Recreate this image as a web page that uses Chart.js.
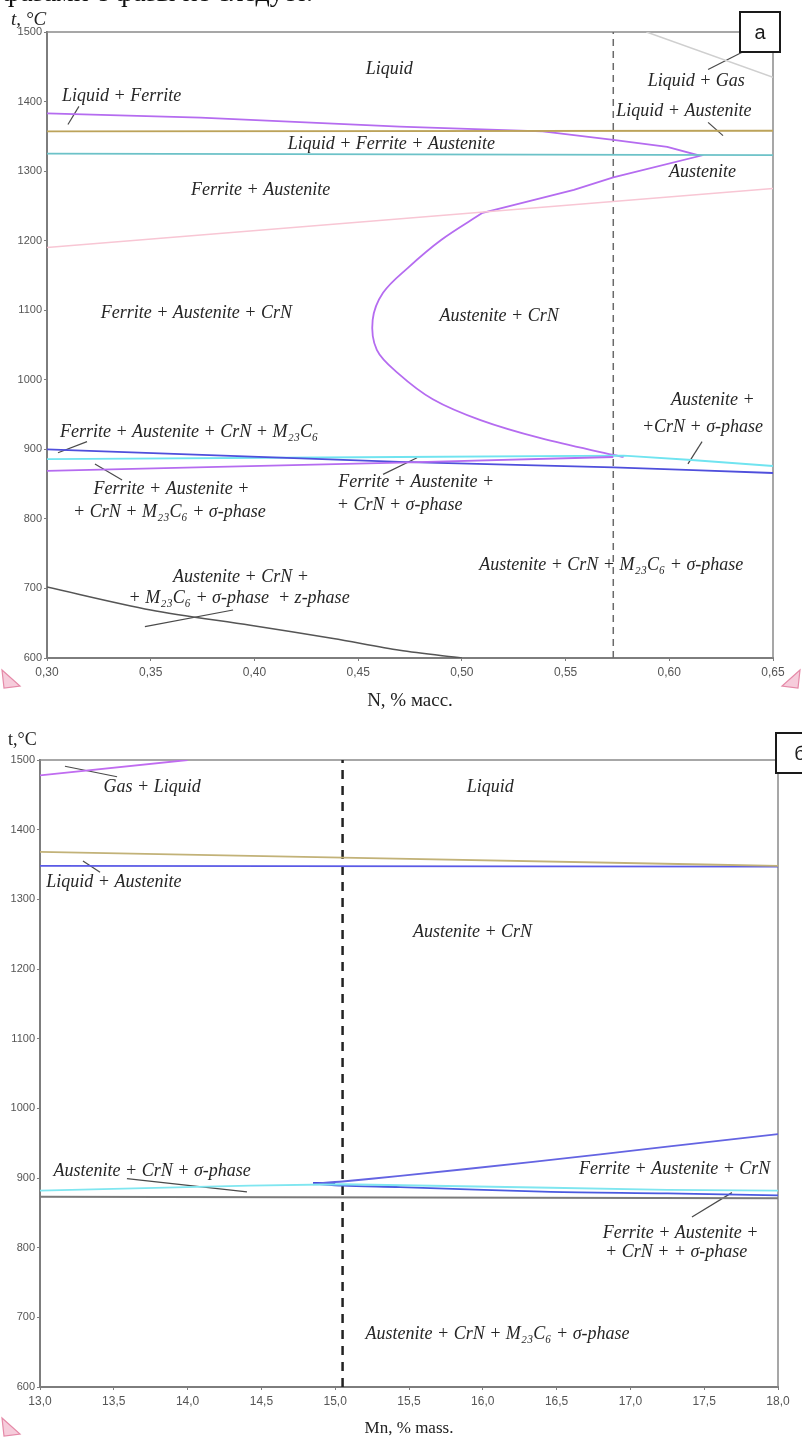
<!DOCTYPE html>
<html>
<head>
<meta charset="utf-8">
<script src="https://cdn.jsdelivr.net/npm/chart.js@4.4.1/dist/chart.umd.min.js"></script>
<style>
  body { margin: 0; background: #fff; width: 802px; height: 1443px; overflow: hidden; position: relative; }
  .wrap { position: absolute; left: 0; }
</style>
</head>
<body>
<div class="wrap" style="top:0"><canvas id="chartA" width="802" height="720"></canvas></div>
<div class="wrap" style="top:720px"><canvas id="chartB" width="802" height="723"></canvas></div>
<script>
// ---- chart a: t vs N, % mass ----
const nTicks = [0.30, 0.35, 0.40, 0.45, 0.50, 0.55, 0.60, 0.65];
const tTicks = [600, 700, 800, 900, 1000, 1100, 1200, 1300, 1400, 1500];
const nSection = 0.573;

const nLiquidus = [[0.30, 1383], [0.374, 1377], [0.470, 1364], [0.539, 1357], [0.573, 1345], [0.599, 1335], [0.615, 1322],
                   [0.573, 1291], [0.554, 1273], [0.510, 1240]];
const nCrNSolvus = [[0.510, 1240], [0.490, 1201], [0.474, 1161], [0.462, 1125], [0.457, 1086], [0.459, 1043],
                    [0.469, 1010], [0.486, 972], [0.509, 942], [0.538, 916], [0.573, 892], [0.578, 889]];
const nSigmaLow = [[0.30, 869], [0.470, 881], [0.573, 889]];
const nM23C6 = [[0.30, 900], [0.470, 882], [0.573, 874], [0.65, 866]];
const nSigma = [[0.30, 886], [0.470, 889], [0.578, 891], [0.609, 885], [0.65, 876]];
const nZphase = [[0.30, 702], [0.350, 669], [0.398, 647], [0.438, 628], [0.470, 611], [0.500, 600]];
const nOlive = [[0.30, 1357], [0.65, 1358]];
const nTeal = [[0.30, 1325], [0.65, 1323]];
const nPink = [[0.30, 1190], [0.65, 1275]];
const nGas = [[0.589, 1500], [0.65, 1435]];

const nLeaders = [
  [[0.3154, 1393], [0.3101, 1367]],
  [[0.6187, 1446], [0.6351, 1471]],
  [[0.6187, 1370], [0.6259, 1351]],
  [[0.3193, 911], [0.3053, 895]],
  [[0.3231, 879], [0.3362, 856]],
  [[0.4620, 864], [0.4784, 888]],
  [[0.6158, 911], [0.6090, 879]],
  [[0.3472, 645], [0.3897, 669]]
];

const nLabels = [
  ['Liquid', 0.465, 1446],
  ['Liquid + Ferrite', 0.336, 1407],
  ['Liquid + Gas', 0.613, 1429],
  ['Liquid + Austenite', 0.607, 1386],
  ['Liquid + Ferrite + Austenite', 0.466, 1338],
  ['Austenite', 0.616, 1298],
  ['Ferrite + Austenite', 0.403, 1272],
  ['Ferrite + Austenite + CrN', 0.372, 1096],
  ['Austenite + CrN', 0.518, 1091],
  ['Austenite +', 0.621, 971],
  ['+CrN + σ-phase', 0.616, 932],
  ['Ferrite + Austenite + CrN + M₂₃C₆', 0.3685, 925],
  ['Ferrite + Austenite +', 0.360, 842],
  ['+ CrN + M₂₃C₆ + σ-phase', 0.359, 810],
  ['Ferrite + Austenite +', 0.478, 853],
  ['+ CrN + σ-phase', 0.470, 820],
  ['Austenite + CrN + M₂₃C₆ + σ-phase', 0.572, 734],
  ['Austenite + CrN +', 0.3935, 716],
  ['+ M₂₃C₆ + σ-phase  + z-phase', 0.3926, 686]
];

// ---- chart б: t vs Mn, % mass ----
const mnTicks = [13.0, 13.5, 14.0, 14.5, 15.0, 15.5, 16.0, 16.5, 17.0, 17.5, 18.0];
const mnSection = 15.05;

const mGas = [[13.0, 1478], [14.0, 1500]];
const mOlive = [[13.0, 1368], [15.05, 1360], [17.5, 1350], [18.0, 1348]];
const mLiquidus = [[13.0, 1348], [18.0, 1347]];
const mBlack = [[13.0, 873], [18.0, 871]];
const mSigma = [[13.0, 882], [14.42, 889], [15.05, 891], [16.46, 886], [17.25, 883], [18.0, 882]];
const mFerriteUp = [[14.85, 892], [15.05, 895], [15.44, 903], [16.34, 923], [17.25, 945], [18.0, 963]];
const mFerriteLow = [[14.85, 892], [15.05, 889], [15.44, 887], [16.46, 880], [17.25, 878], [18.0, 875]];
const mWedge = [[14.85, 892], [15.0, 892]];

const mLeaders = [
  [[13.169, 1491], [13.522, 1476]],
  [[13.291, 1355], [13.407, 1339]],
  [[13.589, 899], [14.402, 880]],
  [[17.417, 844], [17.688, 879]]
];

const mLabels = [
  ['Gas + Liquid', 13.76, 1461],
  ['Liquid', 16.05, 1461],
  ['Liquid + Austenite', 13.50, 1325],
  ['Austenite + CrN', 15.93, 1253],
  ['Austenite + CrN + σ-phase', 13.76, 909],
  ['Ferrite + Austenite + CrN', 17.30, 912],
  ['Ferrite + Austenite +', 17.34, 821],
  ['+ CrN + + σ-phase', 17.31, 793],
  ['Austenite + CrN + M₂₃C₆ + σ-phase', 16.10, 675]
];

Chart.defaults.font.family = '"Liberation Sans", Arial, sans-serif';

function line(pts, color, width, extra) {
  return Object.assign({
    data: pts.map(p => ({ x: p[0], y: p[1] })),
    borderColor: color, borderWidth: width, showLine: true,
    pointRadius: 0, fill: false, tension: 0
  }, extra || {});
}

function pinkMark(ctx, x, y, flip) {
  // small pink arrow-head fragments at the page margins
  ctx.save();
  ctx.strokeStyle = '#e58aa8';
  ctx.fillStyle = 'rgba(240,170,195,0.6)';
  ctx.lineWidth = 1.2;
  const s = flip ? -1 : 1;
  ctx.beginPath();
  ctx.moveTo(x, y);
  ctx.lineTo(x + s * 18, y + 16);
  ctx.lineTo(x + s * 2, y + 18);
  ctx.closePath();
  ctx.fill();
  ctx.stroke();
  ctx.restore();
}

const phasePlugin = {
  id: 'phase',
  beforeDatasetsDraw(chart, args, o) {
    const { ctx, chartArea: a } = chart;
    ctx.save();
    ctx.strokeStyle = '#8a8a8a';
    ctx.lineWidth = 1.5;
    ctx.beginPath();
    ctx.moveTo(a.left, a.top);
    ctx.lineTo(a.right, a.top);
    ctx.lineTo(a.right, a.bottom);
    ctx.stroke();
    ctx.restore();
  },
  afterDraw(chart, args, o) {
    const { ctx } = chart;
    const xs = chart.scales.x, ys = chart.scales.y;
    ctx.save();
    ctx.fillStyle = '#262626';
    ctx.font = 'italic 18px "Liberation Serif", "DejaVu Serif", serif';
    ctx.textAlign = 'center';
    ctx.textBaseline = 'middle';
    (o.labels || []).forEach(l => {
      ctx.fillText(l[0], xs.getPixelForValue(l[1]), ys.getPixelForValue(l[2]));
    });
    (o.texts || []).forEach(t => {
      ctx.font = t.font;
      ctx.fillStyle = t.color || '#222';
      ctx.textAlign = t.align || 'left';
      ctx.textBaseline = t.baseline || 'middle';
      ctx.fillText(t.text, t.x, t.y);
    });
    (o.marks || []).forEach(m => pinkMark(ctx, m[0], m[1], m[2]));
    if (o.box) {
      const b = o.box;
      ctx.fillStyle = '#fff';
      ctx.fillRect(b.x, b.y, b.w, b.h);
      ctx.strokeStyle = '#1a1a1a';
      ctx.lineWidth = 2;
      ctx.strokeRect(b.x, b.y, b.w, b.h);
      ctx.fillStyle = '#1a1a1a';
      ctx.font = '20px "Liberation Sans", Arial, sans-serif';
      ctx.textAlign = 'center';
      ctx.textBaseline = 'middle';
      ctx.fillText(b.text, b.tx, b.y + b.h / 2 + 1);
    }
    ctx.restore();
  }
};

function makeChart(id, cfg) {
  return new Chart(document.getElementById(id), {
    type: 'scatter',
    data: { datasets: cfg.datasets },
    options: {
      responsive: false,
      animation: false,
      devicePixelRatio: 1,
      events: [],
      layout: { padding: cfg.padding },
      plugins: {
        legend: { display: false },
        tooltip: { enabled: false },
        phase: { labels: cfg.labels, texts: cfg.texts, box: cfg.box, marks: cfg.marks }
      },
      scales: {
        x: {
          type: 'linear', min: cfg.xMin, max: cfg.xMax,
          afterBuildTicks: s => { s.ticks = cfg.xTicks.map(v => ({ value: v })); },
          afterFit: s => { s.height = cfg.xHeight; },
          border: { color: '#7d7d7d', width: 2 },
          grid: { display: true, drawOnChartArea: false, drawTicks: true, tickLength: 3, color: '#7d7d7d' },
          ticks: {
            color: '#555', font: { size: cfg.xTickSize }, padding: 4, maxRotation: 0, autoSkip: false,
            callback: v => v.toFixed(cfg.xDigits).replace('.', ',')
          },
          title: {
            display: true, text: cfg.xTitle, color: '#222',
            font: { family: '"Liberation Serif", serif', size: cfg.xTitleSize },
            padding: { top: 0, bottom: cfg.xTitlePad }
          }
        },
        y: {
          type: 'linear', min: 600, max: 1500,
          afterBuildTicks: s => { s.ticks = tTicks.map(v => ({ value: v })); },
          afterFit: s => { s.width = cfg.yWidth; },
          border: { color: '#7d7d7d', width: 2 },
          grid: { display: true, drawOnChartArea: false, drawTicks: true, tickLength: 3, color: '#7d7d7d' },
          ticks: { color: '#555', font: { size: cfg.yTickSize }, padding: 2, autoSkip: false, callback: v => String(v) }
        }
      }
    },
    plugins: [phasePlugin]
  });
}

const leader = (pts) => line(pts, '#4a4a4a', 1.2);

makeChart('chartA', {
  xMin: 0.30, xMax: 0.65, xTicks: nTicks, xDigits: 2,
  xTitle: 'N, % масс.', xTitleSize: 19, xTitlePad: 8, xHeight: 62, xTickSize: 12,
  yWidth: 47, yTickSize: 11,
  padding: { left: 0, right: 29, top: 32, bottom: 0 },
  labels: nLabels,
  texts: [
    { text: 'фазами с фазы не следует.', x: 2, y: 1, font: '28px "Liberation Serif", serif', color: '#111', baseline: 'alphabetic' },
    { text: 't, °C', x: 11, y: 20, font: 'italic 19px "Liberation Serif", serif', color: '#222' }
  ],
  marks: [[2, 670, false], [800, 670, true]],
  box: { x: 740, y: 12, w: 40, h: 40, text: 'a', tx: 760 },
  datasets: [
    line(nPink, '#f8c6d4', 1.5),
    line(nGas, '#cfcfcf', 1.5),
    line(nOlive, '#bca35a', 1.8),
    line(nTeal, '#6cc2c8', 1.8),
    line(nZphase, '#555555', 1.5, { tension: 0.3 }),
    line(nSigmaLow, '#b56cf0', 1.8),
    line(nM23C6, '#4f4fdc', 1.8, { tension: 0.2 }),
    line(nSigma, '#70e4f0', 1.8),
    line(nLiquidus, '#b56cf0', 1.8),
    line(nCrNSolvus, '#b56cf0', 1.8, { tension: 0.35 }),
    line([[nSection, 600], [nSection, 1500]], '#6a6a6a', 1.5, { borderDash: [7, 5] }),
    ...nLeaders.map(leader)
  ]
});

makeChart('chartB', {
  xMin: 13, xMax: 18, xTicks: mnTicks, xDigits: 1,
  xTitle: 'Mn, % mass.', xTitleSize: 17, xTitlePad: 4, xHeight: 56, xTickSize: 12,
  yWidth: 40, yTickSize: 11,
  padding: { left: 0, right: 24, top: 40, bottom: 0 },
  labels: mLabels,
  texts: [
    { text: 't,°C', x: 8, y: 20, font: '18px "Liberation Serif", serif', color: '#222' }
  ],
  marks: [[2, 698, false]],
  box: { x: 776, y: 13, w: 40, h: 40, text: 'б', tx: 800 },
  datasets: [
    line(mGas, '#c06cf0', 1.8),
    line(mOlive, '#c2b278', 1.8),
    line(mLiquidus, '#5a5ae6', 1.8),
    line(mBlack, '#7a7a7a', 2),
    line(mSigma, '#7fe6f0', 1.8),
    line(mFerriteUp, '#6464e2', 1.8, { tension: 0.2 }),
    line(mFerriteLow, '#4a5ae0', 1.8, { tension: 0.3 }),
    line(mWedge, '#2a2ad0', 3),
    line([[mnSection, 600], [mnSection, 1500]], '#222222', 2.5, { borderDash: [9, 7] }),
    ...mLeaders.map(leader)
  ]
});
</script>
</body>
</html>
